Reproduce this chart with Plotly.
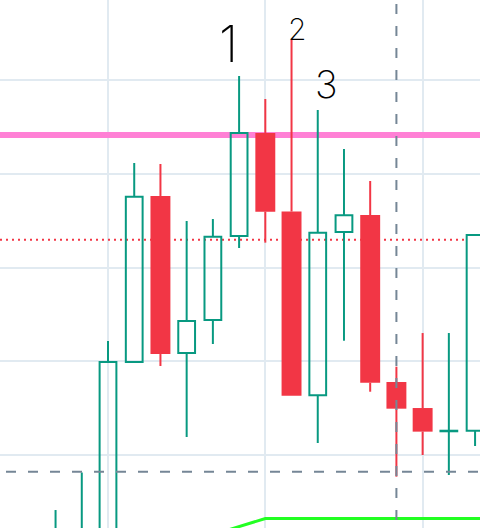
import plotly.graph_objects as go

# ---- data ----
idx = list(range(17))
open_ = [86.67, 87.73, 88.80, 109.92, 127.63, 110.88, 114.40, 123.36, 134.35, 125.97,
         106.37, 123.79, 125.60, 107.79, 105.01, 102.53, 102.59]
high = [94.13, 98.13, 112.16, 131.15, 131.04, 124.96, 125.17, 140.43, 137.97, 144.34,
        136.80, 132.64, 129.23, 109.42, 113.01, 113.01, 123.47]
low = [84.53, 85.60, 86.67, 109.92, 109.49, 101.92, 111.84, 122.08, 122.65, 106.33,
       101.28, 112.19, 106.75, 97.69, 100.00, 97.87, 100.96]
close = [90.40, 91.47, 109.92, 127.55, 110.77, 114.29, 123.29, 134.35, 125.95, 106.33,
         123.71, 125.57, 107.71, 104.94, 102.49, 102.59, 123.47]

pink_level = 134.13
red_level = 122.97
cross_x = 13
cross_y = 98.22
green_line_x = [6, 8, 17]
green_line_y = [91.50, 93.23, 93.23]

labels = ["1", "2", "3"]
label_x = [6.58, 9.21, 10.35]
label_y = [143.79, 145.44, 139.57]
label_size = [50, 30, 38]

UP = "#089981"
DOWN = "#f23645"
HOLLOW_W = 0.64
FILLED_W = 0.76

fig = go.Figure()

up_i = [i for i in idx if close[i] >= open_[i]]
dn_i = [i for i in idx if close[i] < open_[i]]


def wicks(ids):
    xs, ys = [], []
    for i in ids:
        top = max(open_[i], close[i])
        bot = min(open_[i], close[i])
        if high[i] > top:
            xs += [i, i, None]
            ys += [high[i], top, None]
        if low[i] < bot:
            xs += [i, i, None]
            ys += [bot, low[i], None]
    return xs, ys


# bodies
fig.add_trace(go.Bar(
    x=up_i,
    base=[open_[i] for i in up_i],
    y=[max(close[i] - open_[i], 0.06) for i in up_i],
    width=HOLLOW_W,
    marker=dict(color="rgba(0,0,0,0)", line=dict(color=UP, width=2)),
    showlegend=False, hoverinfo="skip"))
fig.add_trace(go.Bar(
    x=dn_i,
    base=[close[i] for i in dn_i],
    y=[open_[i] - close[i] for i in dn_i],
    width=FILLED_W,
    marker=dict(color=DOWN, line=dict(width=0)),
    showlegend=False, hoverinfo="skip"))

# wicks
wx, wy = wicks(up_i)
fig.add_trace(go.Scatter(x=wx, y=wy, mode="lines", line=dict(color=UP, width=2),
                         showlegend=False, hoverinfo="skip"))
wx, wy = wicks(dn_i)
fig.add_trace(go.Scatter(x=wx, y=wy, mode="lines", line=dict(color=DOWN, width=2),
                         showlegend=False, hoverinfo="skip"))

# bright green line
fig.add_trace(go.Scatter(x=green_line_x, y=green_line_y, mode="lines",
                         line=dict(color="#22ff22", width=3),
                         showlegend=False, hoverinfo="skip"))

x_range = [-2.119, 16.188]
y_range = [92.213, 148.533]

# horizontal levels
fig.add_shape(type="line", xref="x", yref="y", x0=x_range[0] - 1, x1=x_range[1] + 1,
              y0=pink_level, y1=pink_level, line=dict(color="#ff80d5", width=6),
              layer="between")
fig.add_shape(type="line", xref="x", yref="y", x0=x_range[0], x1=16 - HOLLOW_W / 2,
              y0=red_level, y1=red_level,
              line=dict(color=DOWN, width=2, dash="2px,4px"), layer="between")

# crosshair
fig.add_shape(type="line", xref="x", yref="y", x0=cross_x, x1=cross_x,
              y0=148.11, y1=y_range[0] - 1,
              line=dict(color="#758696", width=2, dash="10px,12px"), layer="above")
fig.add_shape(type="line", xref="x", yref="y", x0=-1.89, x1=x_range[1] + 1,
              y0=cross_y, y1=cross_y,
              line=dict(color="#758696", width=2, dash="10px,12px"), layer="above")

for t, x, y, s in zip(labels, label_x, label_y, label_size):
    fig.add_annotation(x=x, y=y, text=t, showarrow=False, xref="x", yref="y",
                       font=dict(family="Inter", size=s, color="black", weight=200))

fig.update_layout(
    width=480, height=528,
    margin=dict(l=0, r=0, t=0, b=0),
    paper_bgcolor="white", plot_bgcolor="white",
    barmode="overlay",
    showlegend=False,
    xaxis=dict(range=x_range, tick0=2, dtick=6, showgrid=True, gridcolor="#e1eaf1",
               gridwidth=2, zeroline=False, showticklabels=False, ticks="",
               fixedrange=True),
    yaxis=dict(range=y_range, tick0=100, dtick=10, showgrid=True, gridcolor="#e1eaf1",
               gridwidth=2, zeroline=False, showticklabels=False, ticks="",
               fixedrange=True),
)

fig.write_html("out.html")
